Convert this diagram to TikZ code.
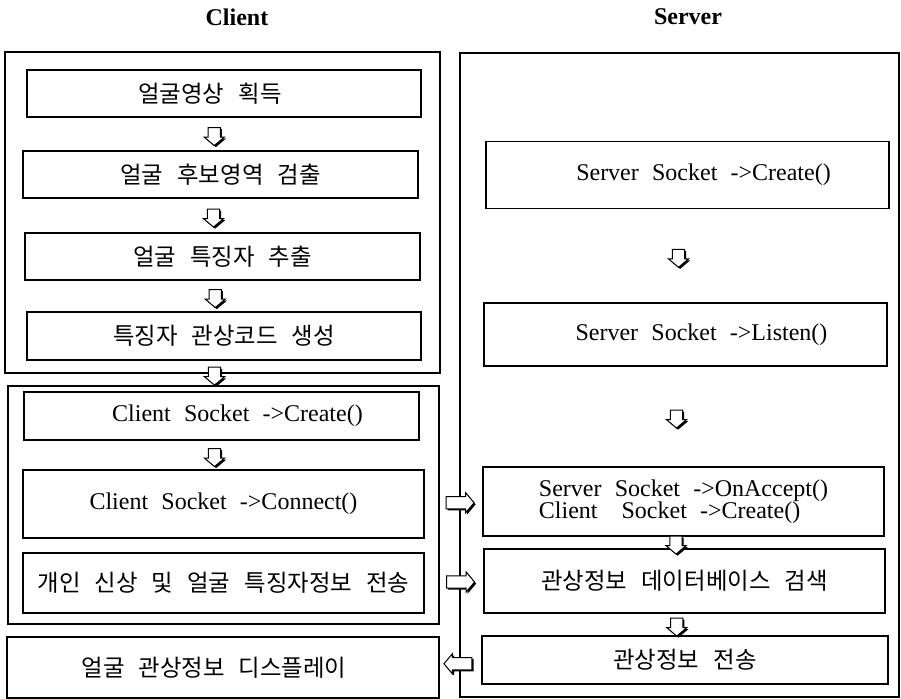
\documentclass[tikz,border=0pt]{standalone}
\usepackage{fontspec}
\setmainfont{Liberation Serif}
\newfontfamily\kr{Noto Sans CJK KR}
\usetikzlibrary{shapes.arrows,shadows,calc}
\newcommand\krfont{\kr\fontsize{11.7}{13}\selectfont\spaceskip=0.6em\relax}
\newcommand\latfont{\fontsize{12}{13}\selectfont\spaceskip=0.55em\relax}

\begin{document}
\begin{tikzpicture}[x=0.5pt,y=-0.5pt,
  every node/.style={line width=0.6pt,inner sep=0pt},
  box/.style 2 args={draw,fill=white,minimum width=#1*0.5pt,minimum height=#2*0.5pt},
  lat/.style={font=\latfont},
  latr/.style={lat,execute at begin node={\hspace*{16pt}}},
  krt/.style={font=\krfont},
  blk/.style={single arrow,draw,fill=white,line width=0.5pt,inner sep=2.8pt,
    single arrow head extend=2pt,single arrow tip angle=100,
    general shadow={shadow xshift=0.8pt,shadow yshift=-0.8pt,fill=black}},
  dnarr/.style={blk,shape border rotate=270,minimum height=9pt,xshift=-4pt},
  rtarr/.style={blk,minimum height=14pt,xshift=2pt},
  ltarr/.style={blk,shape border rotate=180,minimum height=14pt}]
  \useasboundingbox (0,0) rectangle (901,699);

  \node[font=\bfseries\fontsize{12}{13}\selectfont] (client) at (237,17) {Client};
  \node[font=\bfseries\fontsize{12}{13}\selectfont] (server) at (688,17) {Server};

  % client side
  \node[box={435}{321}] (fa) at (222.5,212.5) {};
  \node[box={431}{238}] (fb) at (223.5,505) {};
  \node[box={394}{47},krt,execute at end node={\hspace*{14pt}}] (c1) at (224,93.5) {얼굴영상 획득};
  \node[box={395}{47},krt] (c2) at (220.5,174.5) {얼굴 후보영역 검출};
  \node[box={395}{47},krt] (c3) at (222.5,256.5) {얼굴 특징자 추출};
  \node[box={394}{48},krt] (c4) at (224,336) {특징자 관상코드 생성};
  \node[box={395}{48},latr] (c5) at (221.5,416) {Client Socket ->Create()};
  \node[box={401}{68},lat] (c6) at (223.5,504) {Client Socket ->Connect()};
  \node[box={401}{60},krt] (c7) at (223.5,583) {개인 신상 및 얼굴 특징자정보 전송};
  \node[box={432}{61},krt,execute at end node={\hspace*{9pt}}] (c8) at (223,667.5) {얼굴 관상정보 디스플레이};

  % server side
  \node[box={439}{644}] (sv) at (679.5,375) {};
  \node[box={403}{67},latr] (s1) at (687.5,175) {Server Socket ->Create()};
  \node[box={403}{63},latr] (s2) at (685.5,334.5) {Server Socket ->Listen()};
  \node[box={401}{69},lat,align=left] (s3) at (683.5,501.5)
    {Server Socket ->OnAccept()\\[-2pt]Client\quad Socket ->Create()};
  \node[box={401}{64},krt] (s4) at (684.5,581) {관상정보 데이터베이스 검색};
  \node[box={406}{48},krt] (s5) at (685,660) {관상정보 전송};

  % flow arrows
  \node[dnarr] (a1) at ($(c1.south)!.5!(c2.north)$) {};
  \node[dnarr] (a2) at ($(c2.south)!.5!(c3.north)$) {};
  \node[dnarr] (a3) at ($(c3.south)!.5!(c4.north)$) {};
  \node[dnarr] (a4) at (fa.south) {};
  \node[dnarr] (a5) at ($(c5.south)!.5!(c6.north)$) {};
  \node[dnarr] (b1) at ($(s1.south)!.5!(s2.north)$) {};
  \node[dnarr] (b2) at ($(s2.south)!.5!(s3.north)$) {};
  \node[dnarr] (b3) at ($(s3.south)!.5!(s4.north)$) {};
  \node[dnarr] (b4) at ($(s4.south)!.5!(s5.north)$) {};
  \node[rtarr] (h1) at ($(c6.east)!.5!(s3.west)$) {};
  \node[rtarr] (h2) at ($(c7.east)!.5!(s4.west)$) {};
  \node[ltarr] (h3) at ($(c8.east)!.5!(s5.west)$) {};
\end{tikzpicture}
\end{document}
